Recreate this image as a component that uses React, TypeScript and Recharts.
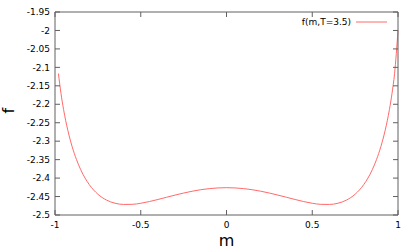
import { LineChart, Line, XAxis, YAxis, Legend } from 'recharts';

// magnetisation values (symmetric curve)
const mValues = [
  -1.0, -0.98, -0.965, -0.95, -0.925, -0.9, -0.875, -0.85, -0.8, -0.75, -0.7, -0.65, -0.6, -0.55, -0.5,
  -0.45, -0.4, -0.35, -0.3, -0.25, -0.2, -0.15, -0.1, -0.05, 0,
  0.05, 0.1, 0.15, 0.2, 0.25, 0.3, 0.35, 0.4, 0.45, 0.5, 0.55, 0.6, 0.65, 0.7, 0.75, 0.8,
  0.85, 0.875, 0.9, 0.925, 0.95, 0.965, 0.98, 1.0,
];

// f(m, T=3.5); the left end point is missing in the source (null)
const fValues = [
  null, -2.1168, -2.171, -2.2142, -2.271, -2.3148, -2.3495, -2.3774, -2.4178, -2.4437, -2.4595, -2.4681, -2.4714, -2.4711, -2.4682,
  -2.4636, -2.458, -2.452, -2.4461, -2.4405, -2.4356, -2.4315, -2.4285, -2.4267, -2.426,
  -2.4267, -2.4285, -2.4315, -2.4356, -2.4405, -2.4461, -2.452, -2.458, -2.4636, -2.4682, -2.4711, -2.4714, -2.4681, -2.4595, -2.4437, -2.4178,
  -2.3774, -2.3495, -2.3148, -2.271, -2.2142, -2.171, -2.1168, -2.0,
];

const xTicks = [-1, -0.5, 0, 0.5, 1];
const yTicks = [-2.5, -2.45, -2.4, -2.35, -2.3, -2.25, -2.2, -2.15, -2.1, -2.05, -2, -1.95];

const seriesName = 'f(m,T=3.5)';

const data = mValues.map((m, i) => ({ m, f: fValues[i], g: fValues[i] }));

const FONT = '"DejaVu Sans", sans-serif';
const BORDER = '#606060';
const RED = '#ff6a6a';

const fmt = (v: number) => String(Number(v.toFixed(2)));

function LegendBox({ payload }: any) {
  const item = payload && payload.find((p: any) => p.value === seriesName);
  return (
    <svg width={415} height={30} style={{ display: 'block' }}>
      <text x={351} y={25} textAnchor="end" fontFamily={FONT} fontSize={9} fill="#000">
        {item ? item.value : seriesName}
      </text>
      <line x1={356} x2={387} y1={22} y2={22} stroke={RED} strokeWidth={1} />
    </svg>
  );
}

export default function App() {
  return (
    <div style={{ position: 'absolute', left: 0, top: 0, width: 415, height: 249, background: '#fff' }}>
      <LineChart width={415} height={249} data={data} margin={{ top: 11, right: 16, left: 0, bottom: 0 }}>
        <XAxis
          dataKey="m"
          type="number"
          domain={[-1, 1]}
          ticks={xTicks}
          tickFormatter={fmt}
          height={34}
          tickSize={-5}
          tickMargin={12}
          axisLine={{ stroke: BORDER }}
          tickLine={{ stroke: BORDER }}
          tick={{ fill: '#000', fontSize: 9, fontFamily: FONT }}
          label={{ value: 'm', position: 'insideBottom', offset: 3, fill: '#000', fontSize: 16, fontFamily: FONT }}
        />
        <XAxis
          xAxisId="top"
          dataKey="m"
          type="number"
          orientation="top"
          domain={[-1, 1]}
          ticks={xTicks}
          height={1}
          tickSize={-5}
          axisLine={{ stroke: BORDER }}
          tickLine={{ stroke: BORDER }}
          tickFormatter={() => ''}
        />
        <YAxis
          type="number"
          domain={[-2.5, -1.95]}
          ticks={yTicks}
          tickFormatter={fmt}
          width={55}
          tickSize={-5}
          tickMargin={10}
          axisLine={{ stroke: BORDER }}
          tickLine={{ stroke: BORDER }}
          tick={{ fill: '#000', fontSize: 9, fontFamily: FONT }}
          label={{ value: 'f', angle: -90, position: 'insideLeft', offset: 8, fill: '#000', fontSize: 16, fontFamily: FONT }}
        />
        <YAxis
          yAxisId="right"
          orientation="right"
          type="number"
          domain={[-2.5, -1.95]}
          ticks={yTicks}
          width={1}
          tickSize={-5}
          axisLine={{ stroke: BORDER }}
          tickLine={{ stroke: BORDER }}
          tickFormatter={() => ''}
        />
        <Legend
          layout="vertical"
          align="center"
          verticalAlign="middle"
          wrapperStyle={{ position: 'absolute', left: 0, top: 0, width: 415, height: 30 }}
          content={<LegendBox />}
        />
        <Line
          type="monotone"
          dataKey="f"
          name={seriesName}
          stroke={RED}
          strokeWidth={1}
          dot={false}
          connectNulls={false}
          isAnimationActive={false}
        />
        {/* same series bound to the mirrored axes so they get drawn */}
        <Line
          xAxisId="top"
          yAxisId="right"
          type="monotone"
          dataKey="g"
          name="mirror"
          legendType="none"
          stroke="none"
          strokeWidth={0}
          dot={false}
          isAnimationActive={false}
        />
      </LineChart>
    </div>
  );
}
